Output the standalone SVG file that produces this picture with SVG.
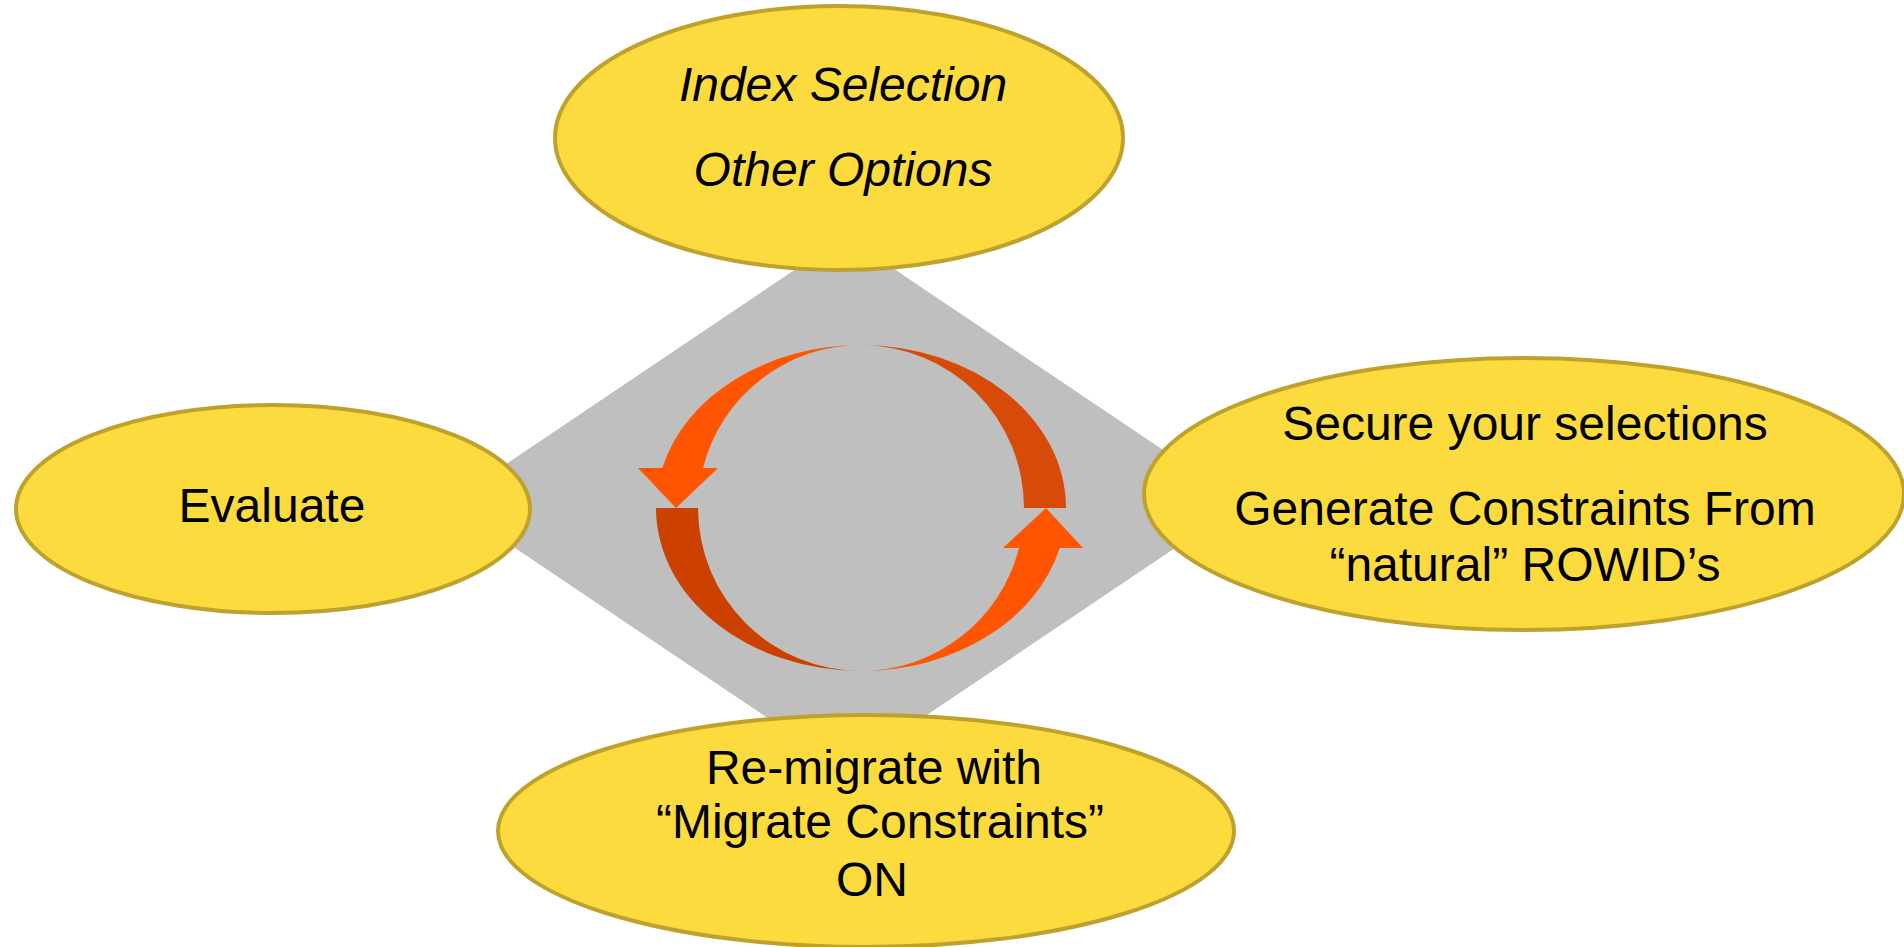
<svg xmlns="http://www.w3.org/2000/svg" width="1904" height="947" viewBox="0 0 1904 947">
<style>
.node ellipse{fill:#FBDB3E;stroke:#BFA22E;stroke-width:4}
text{font-family:"Liberation Sans",Arial,sans-serif;font-size:48px;fill:#000;text-anchor:middle}
.it{font-style:italic}
.bright{fill:#FF5500}
.darkA{fill:#D84A08}
.darkB{fill:#CC4100}
</style>
<rect width="1904" height="947" fill="#fff"/>
<g id="connectors">
<polygon points="845,236 1242,503 845,770 448,503" fill="#BFBFBF"/>
<g id="cycle">
<path class="bright" d="M861,345 A205,163 0 0 0 662.3,468 L638,468 L676,508 L718,468 L703,468 A163,163 0 0 1 861,345 Z"/>
<path class="darkA" d="M861,345 A205,163 0 0 1 1066,508 L1024,508 A163,163 0 0 0 861,345 Z"/>
<path class="darkB" d="M656,508 L698,508 A163,163 0 0 0 861,671 A205,163 0 0 1 656,508 Z"/>
<path class="bright" d="M861,671 A205,163 0 0 0 1059.7,548 L1083,548 L1046,508 L1003,548 L1019,548 A163,163 0 0 1 861,671 Z"/>
</g>
</g>
<g id="node-top" class="node">
<ellipse cx="839" cy="138" rx="284" ry="132"/>
<text class="it" x="843" y="101">Index Selection</text>
<text class="it" x="843" y="186">Other Options</text>
</g>
<g id="node-left" class="node">
<ellipse cx="273" cy="509" rx="257" ry="104"/>
<text x="272" y="522">Evaluate</text>
</g>
<g id="node-right" class="node">
<ellipse cx="1524" cy="494" rx="380" ry="136"/>
<text x="1525" y="440">Secure your selections</text>
<text x="1525" y="525">Generate Constraints From</text>
<text x="1525" y="581">“natural” ROWID’s</text>
</g>
<g id="node-bottom" class="node">
<ellipse cx="866" cy="831" rx="368" ry="116"/>
<text x="874" y="784">Re-migrate with</text>
<text x="880" y="838">“Migrate Constraints”</text>
<text x="872" y="896">ON</text>
</g>
</svg>
